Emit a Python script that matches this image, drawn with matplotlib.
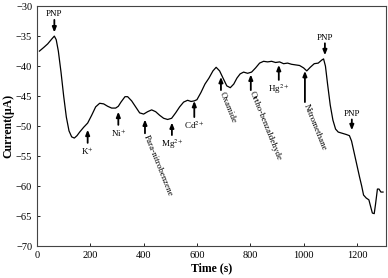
import numpy as np
import matplotlib
matplotlib.use("Agg")
import matplotlib.pyplot as plt

# Data
time_s = [9, 25, 40, 55, 65, 72, 80, 90, 100, 110, 120, 130, 140, 150, 160, 175, 190,
          205, 220, 235, 250, 265, 280, 295, 305, 315, 330, 340, 355, 370, 385, 400,
          415, 430, 445, 460, 475, 490, 505, 520, 535, 550, 565, 578, 590, 600, 615,
          630, 645, 660, 672, 685, 700, 712, 725, 738, 750, 762, 775, 790, 805, 820,
          835, 850, 865, 880, 895, 910, 925, 940, 955, 970, 985, 1000, 1012, 1025,
          1040, 1055, 1068, 1075, 1082, 1090, 1100, 1110, 1120, 1130, 1145, 1160,
          1172, 1180, 1190, 1200, 1210, 1218, 1225, 1235, 1245, 1252, 1258, 1265,
          1270, 1277, 1283, 1290, 1298]
current = [-37.5, -36.9, -36.3, -35.5, -35.0, -35.6, -37.5, -41.0, -45.0, -48.5, -50.8,
           -51.8, -52.0, -51.6, -51.0, -50.2, -49.5, -48.2, -46.8, -46.2, -46.3, -46.7,
           -47.0, -47.0, -46.7, -46.0, -45.1, -45.1, -45.8, -46.8, -47.8, -48.0, -47.6,
           -47.3, -47.6, -48.2, -48.7, -48.9, -48.7, -47.8, -46.8, -46.0, -45.7, -45.9,
           -45.8, -45.6, -44.4, -43.0, -42.0, -40.8, -40.2, -40.8, -42.2, -43.3, -43.6,
           -43.0, -42.0, -41.3, -41.0, -41.2, -41.0, -40.3, -39.5, -39.2, -39.3, -39.2,
           -39.4, -39.3, -39.6, -39.5, -39.7, -39.8, -39.9, -40.3, -40.8, -40.2, -39.6,
           -39.5, -39.0, -38.8, -40.0, -43.0, -46.5, -49.0, -50.5, -51.0, -51.2, -51.4,
           -51.6, -52.5, -54.5, -56.5, -58.5, -60.0, -61.5, -62.0, -62.3, -63.5, -64.5,
           -64.6, -63.0, -60.5, -60.5, -61.0, -61.0]

# labels pointing down onto the curve (PNP additions)
down_labels = ["PNP", "PNP", "PNP"]
down_t = [65, 1080, 1181]
down_tip = [-34.4, -38.2, -50.7]
down_tail = [-32.3, -36.2, -48.9]

# labels pointing up at the curve, with horizontal text below
up_labels = ["K$^{+}$", "Ni$^{+}$", "Mg$^{2+}$", "Cd$^{2+}$", "Hg$^{2+}$"]
up_t = [190, 305, 506, 590, 907]
up_tip = [-50.6, -47.6, -49.4, -45.8, -39.8]
up_tail = [-52.8, -49.8, -51.5, -48.5, -42.3]

# labels pointing up, with slanted text
slant_labels = ["Para-nitrobenzene", "Oxamide", "Ortho-benzaldehyde", "Nitromethane"]
slant_t = [405, 690, 802, 1005]
slant_tip = [-48.9, -41.8, -41.4, -40.8]
slant_tail = [-51.2, -44.0, -44.0, -46.0]

plt.rcParams["font.family"] = ["Liberation Serif", "DejaVu Serif"]
plt.rcParams["mathtext.fontset"] = "stix"

fig = plt.figure(figsize=(3.88, 2.78), dpi=100)
ax = fig.add_axes([0.0954, 0.115, 0.9, 0.863])
ax.plot(time_s, current, color="black", linewidth=0.9)

arrow = dict(arrowstyle="-|>,head_width=0.12,head_length=0.3", color="black",
             lw=1.3, shrinkA=0, shrinkB=0)

for lab, t, tip, tail in zip(down_labels, down_t, down_tip, down_tail):
    ax.annotate("", xy=(t, tip), xytext=(t, tail), arrowprops=arrow)
    ax.text(t, tail + 0.3, lab, ha="center", va="bottom", fontsize=6.5)

for lab, t, tip, tail in zip(up_labels, up_t, up_tip, up_tail):
    ax.annotate("", xy=(t, tip), xytext=(t, tail), arrowprops=arrow)
    ax.text(t, tail - 0.5, lab, ha="center", va="top", fontsize=6.5)

for lab, t, tip, tail in zip(slant_labels, slant_t, slant_tip, slant_tail):
    ax.annotate("", xy=(t, tip), xytext=(t, tail), arrowprops=arrow)
    ax.text(t + 3, tail - 0.3, lab, ha="left", va="center", fontsize=6.5,
            rotation=-68, rotation_mode="anchor")

ax.set_xlim(0, 1310)
ax.set_ylim(-70, -30)
ax.set_xticks([0, 200, 400, 600, 800, 1000, 1200])
ax.set_yticks(np.arange(-70, -29, 5))
ax.tick_params(direction="in", length=2, labelsize=7.5, width=0.6)
for s in ax.spines.values():
    s.set_linewidth(0.8)
    s.set_color("#444444")
ax.set_xlabel("Time (s)", fontsize=8.5, fontweight="bold", labelpad=2)
ax.set_ylabel("Current(\u03bcA)", fontsize=8.5, fontweight="bold", labelpad=1)

fig.savefig("out.png", dpi=100)
